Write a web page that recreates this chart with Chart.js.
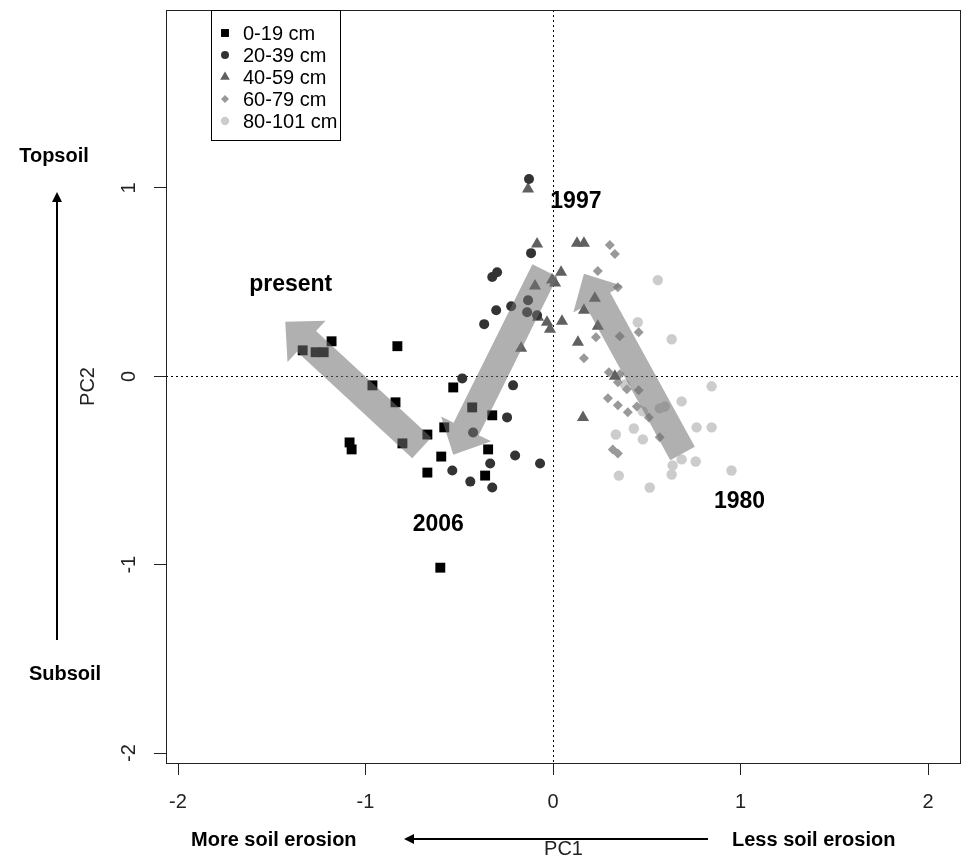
<!DOCTYPE html>
<html>
<head>
<meta charset="utf-8">
<script src="https://cdn.jsdelivr.net/npm/chart.js@4.4.1/dist/chart.umd.min.js"></script>
<style>
  html, body { margin: 0; padding: 0; background: #fff; }
  canvas { display: block; }
</style>
</head>
<body>
<canvas id="pca" width="964" height="867"></canvas>
<script>
// PCA scores of the soil profiles, one array per depth class ([PC1, PC2])
const depthLabels = ['0-19 cm', '20-39 cm', '40-59 cm', '60-79 cm', '80-101 cm'];

const depth0_19 = [
  [-1.335, 0.138], [-1.266, 0.128], [-1.223, 0.128], [-1.181, 0.186], [-0.830, 0.160],
  [-0.963, -0.048], [-0.840, -0.138], [-0.803, -0.356], [-0.670, -0.309], [-1.085, -0.351],
  [-1.074, -0.388], [-0.532, -0.059], [-0.431, -0.165], [-0.324, -0.207], [-0.580, -0.271],
  [-0.346, -0.388], [-0.596, -0.426], [-0.670, -0.511], [-0.362, -0.527], [-0.601, -1.016]
];
const depth20_39 = [
  [-0.128, 1.048], [-0.117, 0.654], [-0.298, 0.553], [-0.324, 0.527], [-0.223, 0.372],
  [-0.303, 0.351], [-0.367, 0.277], [-0.133, 0.404], [-0.138, 0.340], [-0.085, 0.324],
  [-0.484, -0.011], [-0.213, -0.048], [-0.245, -0.218], [-0.426, -0.298], [-0.202, -0.420],
  [-0.335, -0.463], [-0.069, -0.463], [-0.537, -0.500], [-0.441, -0.559], [-0.324, -0.590]
];
const depth40_59 = [
  [-0.133, 0.995], [-0.085, 0.702], [0.128, 0.707], [0.165, 0.707], [0.043, 0.553],
  [-0.005, 0.511], [0.011, 0.495], [-0.096, 0.479], [-0.080, 0.314], [-0.032, 0.287],
  [-0.016, 0.250], [0.048, 0.293], [-0.170, 0.149], [0.223, 0.415], [0.165, 0.351],
  [0.239, 0.266], [0.133, 0.181], [0.330, 0.000], [0.160, -0.218]
];
const depth60_79 = [
  [0.303, 0.697], [0.330, 0.649], [0.239, 0.559], [0.346, 0.473], [0.356, 0.213],
  [0.457, 0.234], [0.229, 0.207], [0.165, 0.096], [0.298, 0.021], [0.356, 0.011],
  [0.346, -0.032], [0.394, -0.069], [0.293, -0.117], [0.346, -0.154], [0.399, -0.191],
  [0.447, -0.160], [0.511, -0.218], [0.569, -0.324], [0.319, -0.388], [0.346, -0.410],
  [0.457, -0.074]
];
const depth80_101 = [
  [0.559, 0.511], [0.452, 0.287], [0.633, 0.197], [0.846, -0.053], [0.686, -0.133],
  [0.569, -0.170], [0.596, -0.160], [0.479, -0.186], [0.431, -0.277], [0.335, -0.309],
  [0.479, -0.335], [0.766, -0.271], [0.846, -0.271], [0.686, -0.441], [0.638, -0.473],
  [0.761, -0.452], [0.952, -0.500], [0.633, -0.521], [0.351, -0.527], [0.516, -0.590],
  [0.383, -0.043]
];

const xTicks = [-2, -1, 0, 1, 2];
const yTicks = [-2, -1, 0, 1];

const toPoints = (rows) => rows.map(([x, y]) => ({ x, y }));

// R-like symbols: pch 15, 16, 17, 18, 16
const seriesStyle = [
  { color: '#000000', pointStyle: 'rect', radius: 7 },
  { color: '#333333', pointStyle: 'circle', radius: 5 },
  { color: '#606060', pointStyle: 'triangle', radius: 7 },
  { color: '#999999', pointStyle: 'rectRot', radius: 5 },
  { color: '#cccccc', pointStyle: 'circle', radius: 5.2 },
];

const seriesData = [depth0_19, depth20_39, depth40_59, depth60_79, depth80_101];

const datasets = seriesData.map((rows, i) => ({
  label: depthLabels[i],
  data: toPoints(rows),
  pointStyle: seriesStyle[i].pointStyle,
  pointRadius: seriesStyle[i].radius,
  backgroundColor: seriesStyle[i].color,
  borderColor: seriesStyle[i].color,
  borderWidth: 0,
}));

// time arrows (1980 -> 1997 -> 2006 -> present), in data units
const trendArrows = [
  { from: [0.691, -0.410], to: [0.165, 0.545] },
  { from: [-0.043, 0.562], to: [-0.532, -0.417] },
  { from: [-0.700, -0.380], to: [-1.428, 0.290] },
];
const yearLabels = [
  { text: 'present', at: [-1.399, 0.486] },
  { text: '1997', at: [0.122, 0.928] },
  { text: '2006', at: [-0.612, -0.785] },
  { text: '1980', at: [0.995, -0.663] },
];

const FONT = '"Liberation Sans", Arial, sans-serif';

function drawBlockArrow(ctx, x0, y0, x1, y1) {
  const shaft = 14, head = 28, headLen = 29;
  const len = Math.hypot(x1 - x0, y1 - y0);
  const ux = (x1 - x0) / len, uy = (y1 - y0) / len;
  const px = -uy, py = ux;
  const bx = x1 - ux * headLen, by = y1 - uy * headLen;
  ctx.beginPath();
  ctx.moveTo(x0 + px * shaft, y0 + py * shaft);
  ctx.lineTo(bx + px * shaft, by + py * shaft);
  ctx.lineTo(bx + px * head, by + py * head);
  ctx.lineTo(x1, y1);
  ctx.lineTo(bx - px * head, by - py * head);
  ctx.lineTo(bx - px * shaft, by - py * shaft);
  ctx.lineTo(x0 - px * shaft, y0 - py * shaft);
  ctx.closePath();
  ctx.fill();
}

function drawLineArrow(ctx, x0, y0, x1, y1) {
  const len = Math.hypot(x1 - x0, y1 - y0);
  const ux = (x1 - x0) / len, uy = (y1 - y0) / len;
  ctx.beginPath();
  ctx.moveTo(x0, y0);
  ctx.lineTo(x1 - ux * 8, y1 - uy * 8);
  ctx.stroke();
  ctx.beginPath();
  ctx.moveTo(x1, y1);
  ctx.lineTo(x1 - ux * 10 - uy * 5, y1 - uy * 10 + ux * 5);
  ctx.lineTo(x1 - ux * 10 + uy * 5, y1 - uy * 10 - ux * 5);
  ctx.closePath();
  ctx.fill();
}

const pcaDecor = {
  id: 'pcaDecor',
  // Chart.js leaves a couple of pixels on the right; stretch the x scale to the R frame
  afterLayout(chart) {
    const x = chart.scales.x;
    chart.chartArea.right = 961;
    chart.chartArea.width = 961 - chart.chartArea.left;
    x.right = 961;
    x.width = 961 - x.left;
    x.configure();
  },
  beforeDatasetsDraw(chart) {
    const { ctx, chartArea: a, scales: { x, y } } = chart;
    // dotted reference lines at 0
    ctx.save();
    ctx.strokeStyle = '#000';
    ctx.lineWidth = 1;
    ctx.setLineDash([2, 3]);
    const x0 = Math.round(x.getPixelForValue(0)) + 0.5;
    const y0 = Math.round(y.getPixelForValue(0)) + 0.5;
    ctx.beginPath();
    ctx.moveTo(x0, a.top); ctx.lineTo(x0, a.bottom);
    ctx.moveTo(a.left, y0); ctx.lineTo(a.right, y0);
    ctx.stroke();
    ctx.restore();
  },
  afterDatasetsDraw(chart) {
    const { ctx, scales: { x, y } } = chart;
    ctx.save();
    ctx.fillStyle = 'rgba(112,112,112,0.55)';
    trendArrows.forEach((ar) => {
      drawBlockArrow(ctx,
        x.getPixelForValue(ar.from[0]), y.getPixelForValue(ar.from[1]),
        x.getPixelForValue(ar.to[0]), y.getPixelForValue(ar.to[1]));
    });
    ctx.fillStyle = '#000';
    ctx.font = 'bold 23px ' + FONT;
    ctx.textAlign = 'center';
    ctx.textBaseline = 'middle';
    yearLabels.forEach((l) => {
      ctx.fillText(l.text, x.getPixelForValue(l.at[0]), y.getPixelForValue(l.at[1]));
    });
    ctx.restore();
  },
  afterDraw(chart) {
    const { ctx, chartArea: a, scales: { y } } = chart;
    ctx.save();
    // plot box
    ctx.strokeStyle = '#222';
    ctx.lineWidth = 1;
    ctx.strokeRect(a.left + 0.5, a.top + 0.5, a.right - a.left - 1, a.bottom - a.top);

    // y tick labels, rotated like R
    ctx.fillStyle = '#222';
    ctx.font = '20px ' + FONT;
    ctx.textAlign = 'center';
    ctx.textBaseline = 'middle';
    y.ticks.forEach((t) => {
      ctx.save();
      ctx.translate(a.left - 37, y.getPixelForValue(t.value));
      ctx.rotate(-Math.PI / 2);
      ctx.fillText(String(t.value), 0, 0);
      ctx.restore();
    });

    // legend
    const lx = 211, ly = a.top, lw = 129, lh = 130;
    ctx.fillStyle = '#fff';
    ctx.fillRect(lx, ly, lw, lh);
    ctx.strokeStyle = '#000';
    ctx.strokeRect(lx + 0.5, ly + 0.5, lw, lh);
    ctx.textAlign = 'left';
    chart.data.datasets.forEach((ds, i) => {
      const cy = ly + 23 + i * 22;
      const st = seriesStyle[i];
      ctx.fillStyle = st.color;
      Chart.helpers.drawPoint(ctx, { pointStyle: st.pointStyle, radius: st.radius * 0.8, borderWidth: 0 }, lx + 14, cy);
      ctx.fillStyle = '#000';
      ctx.fillText(ds.label, lx + 32, cy + 1);
    });

    // outside annotations
    ctx.strokeStyle = '#000';
    ctx.fillStyle = '#000';
    ctx.lineWidth = 2;
    drawLineArrow(ctx, 57, 640, 57, 192);
    drawLineArrow(ctx, 708, 839, 404, 839);
    ctx.font = 'bold 20px ' + FONT;
    ctx.textAlign = 'center';
    ctx.fillText('Topsoil', 54, 156);
    ctx.fillText('Subsoil', 65, 674);
    ctx.textAlign = 'left';
    ctx.fillText('More soil erosion', 191, 840);
    ctx.fillText('Less soil erosion', 732, 840);
    ctx.restore();
  },
};

new Chart(document.getElementById('pca'), {
  type: 'scatter',
  data: { datasets },
  options: {
    responsive: false,
    animation: false,
    devicePixelRatio: 1,
    events: [],
    layout: { padding: { top: 10, right: 3, left: 0, bottom: 0 } },
    plugins: {
      legend: { display: false },
      tooltip: { enabled: false },
    },
    scales: {
      x: {
        type: 'linear',
        min: -2.064,
        max: 2.176,
        afterBuildTicks: (s) => { s.ticks = xTicks.map((v) => ({ value: v })); },
        afterFit: (s) => { s.height = 104; },
        border: { display: false },
        grid: { drawOnChartArea: false, drawTicks: true, tickLength: 12, color: '#222' },
        ticks: { color: '#222', padding: 15, font: { size: 20, family: FONT } },
        title: {
          display: true, text: 'PC1', color: '#222',
          padding: { top: 0, bottom: 6 },
          font: { size: 20, family: FONT },
        },
      },
      y: {
        type: 'linear',
        min: -2.053,
        max: 1.945,
        afterBuildTicks: (s) => { s.ticks = yTicks.map((v) => ({ value: v })); },
        afterFit: (s) => { s.width = 166; },
        border: { display: false },
        grid: { drawOnChartArea: false, drawTicks: true, tickLength: 12, color: '#222' },
        ticks: { display: false },
        title: {
          display: true, text: 'PC2', color: '#222',
          padding: { top: 76, bottom: 0 },
          font: { size: 20, family: FONT },
        },
      },
    },
  },
  plugins: [pcaDecor],
});
</script>
</body>
</html>
